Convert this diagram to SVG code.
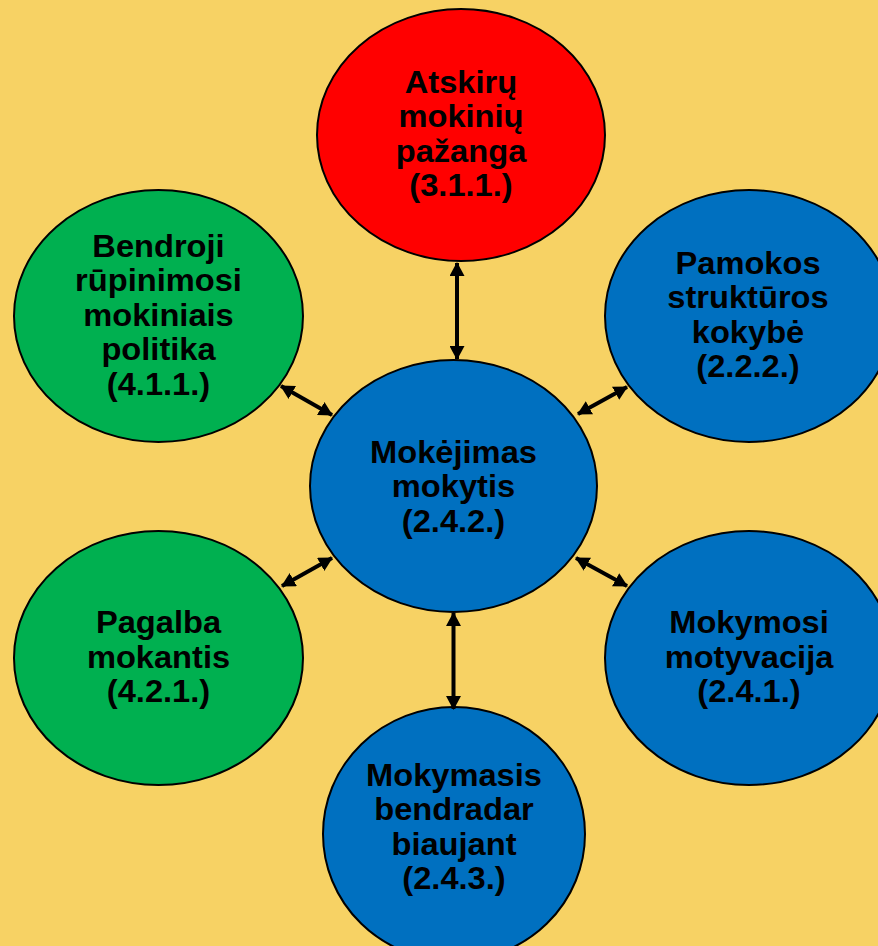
<svg xmlns="http://www.w3.org/2000/svg" width="878" height="946" viewBox="0 0 878 946">
<style>
.bg{fill:#F7D264}
.n{stroke:#000;stroke-width:2}
.red{fill:#FF0000}
.green{fill:#00B050}
.blue{fill:#0070C0}
text{font-family:"Liberation Sans",Arial,sans-serif;font-weight:bold;font-size:32px;fill:#000;text-anchor:middle}
.c line{stroke:#000;stroke-width:4;marker-start:url(#ah);marker-end:url(#ah)}
</style>
<defs>
<marker id="ah" markerUnits="userSpaceOnUse" markerWidth="14" markerHeight="15" viewBox="0 0 14 15" refX="13" refY="7.5" orient="auto-start-reverse">
<path d="M0,0 L14,7.5 L0,15 z" fill="#000"/>
</marker>
</defs>
<rect class="bg" x="0" y="0" width="878" height="946"/>
<g id="n-red">
<ellipse class="n red" cx="461" cy="135" rx="144" ry="126"/>
<text transform="matrix(1.02 0 0 1 461 0)"><tspan x="0" y="93">Atskirų</tspan><tspan x="0" y="127.5">mokinių</tspan><tspan x="0" y="162">pažanga</tspan><tspan x="0" y="196.5">(3.1.1.)</tspan></text>
</g>
<g id="n-green1">
<ellipse class="n green" cx="158.5" cy="316" rx="144.5" ry="126"/>
<text transform="matrix(1.02 0 0 1 158.5 0)"><tspan x="0" y="257">Bendroji</tspan><tspan x="0" y="291.5">rūpinimosi</tspan><tspan x="0" y="326">mokiniais</tspan><tspan x="0" y="360.5">politika</tspan><tspan x="0" y="395">(4.1.1.)</tspan></text>
</g>
<g id="n-blue1">
<ellipse class="n blue" cx="749" cy="316" rx="144" ry="126"/>
<text transform="matrix(1.02 0 0 1 748 0)"><tspan x="0" y="274">Pamokos</tspan><tspan x="0" y="308.5">struktūros</tspan><tspan x="0" y="343">kokybė</tspan><tspan x="0" y="377.5">(2.2.2.)</tspan></text>
</g>
<g id="n-center">
<ellipse class="n blue" cx="453.5" cy="486" rx="143.5" ry="126"/>
<text transform="matrix(1.02 0 0 1 453.5 0)"><tspan x="0" y="463">Mokėjimas</tspan><tspan x="0" y="497.5">mokytis</tspan><tspan x="0" y="532">(2.4.2.)</tspan></text>
</g>
<g id="n-green2">
<ellipse class="n green" cx="158.5" cy="658" rx="144.5" ry="127"/>
<text transform="matrix(1.02 0 0 1 158.5 0)"><tspan x="0" y="633.5">Pagalba</tspan><tspan x="0" y="668">mokantis</tspan><tspan x="0" y="702.5">(4.2.1.)</tspan></text>
</g>
<g id="n-blue2">
<ellipse class="n blue" cx="749" cy="658" rx="144" ry="127"/>
<text transform="matrix(1.02 0 0 1 749 0)"><tspan x="0" y="633.5">Mokymosi</tspan><tspan x="0" y="668">motyvacija</tspan><tspan x="0" y="702.5">(2.4.1.)</tspan></text>
</g>
<g id="n-blue3">
<ellipse class="n blue" cx="454" cy="834" rx="131" ry="127"/>
<text transform="matrix(1.02 0 0 1 454 0)"><tspan x="0" y="786">Mokymasis</tspan><tspan x="0" y="820.5">bendradar</tspan><tspan x="0" y="855">biaujant</tspan><tspan x="0" y="889.5">(2.4.3.)</tspan></text>
</g>
<g class="c" id="connectors">
<line x1="457" y1="263" x2="457" y2="359"/>
<line x1="453.5" y1="613" x2="453.5" y2="709"/>
<line x1="281" y1="386" x2="332" y2="415"/>
<line x1="578" y1="414" x2="627" y2="387"/>
<line x1="282" y1="586" x2="332" y2="558"/>
<line x1="576" y1="558" x2="627" y2="586"/>
</g>
</svg>
